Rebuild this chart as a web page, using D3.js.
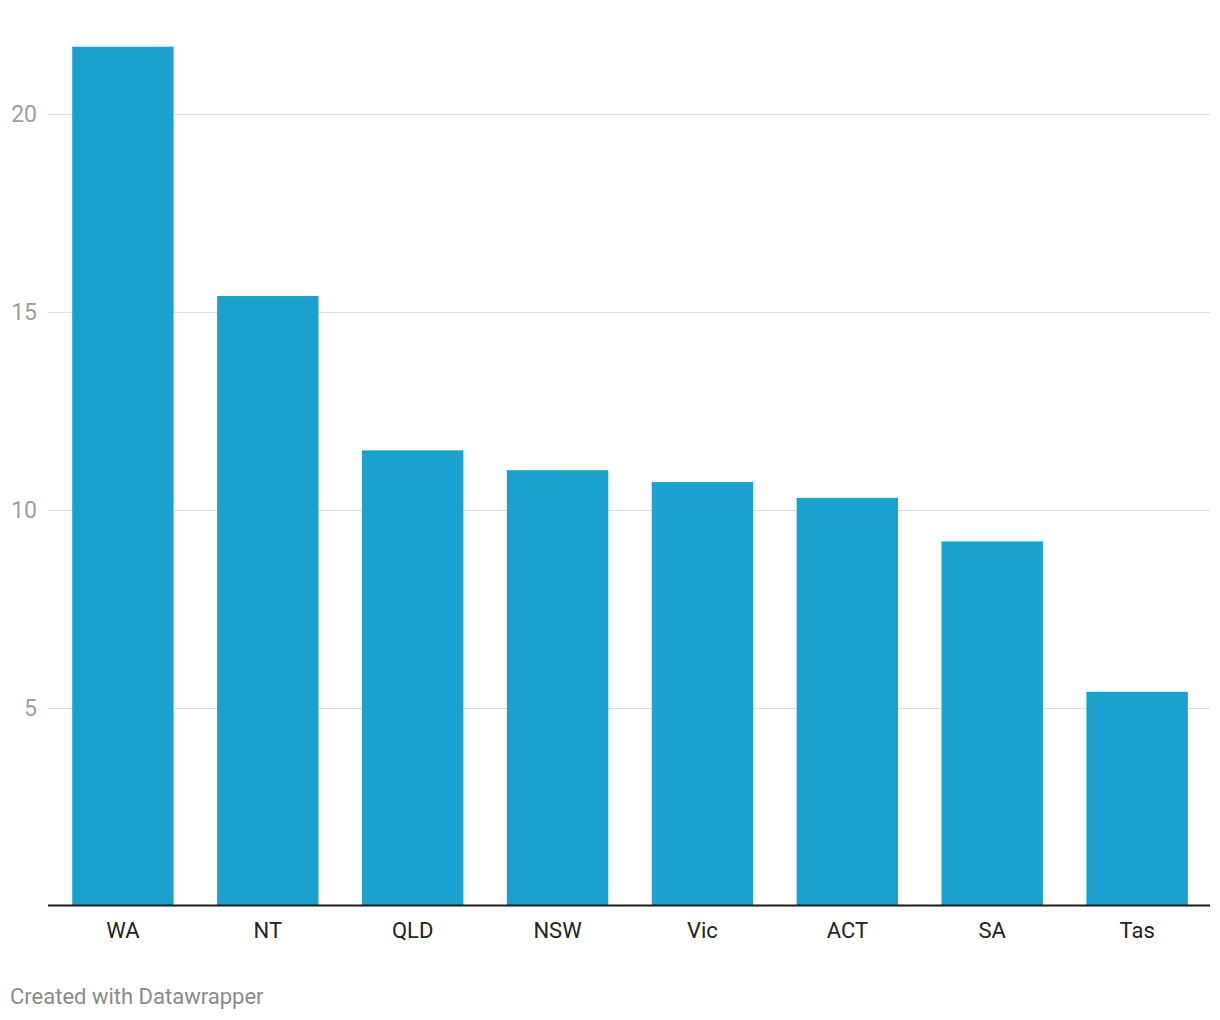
<!DOCTYPE html>
<html>
<head>
<meta charset="utf-8">
<script src="https://cdn.jsdelivr.net/npm/d3@7"></script>
<style>
  html, body { margin: 0; padding: 0; background: #fff; }
  svg { display: block; font-family: Roboto, "Noto Sans", sans-serif; }
</style>
</head>
<body>
<svg id="chart" width="1220" height="1020"></svg>
<script>
const categories = ["WA", "NT", "QLD", "NSW", "Vic", "ACT", "SA", "Tas"];
const values = [21.7, 15.4, 11.5, 11.0, 10.7, 10.3, 9.2, 5.4];
const yTicks = [5, 10, 15, 20];
const footerText = "Created with Datawrapper";

(function () {
const svg = d3.select("#chart");
const plotLeft = 48, plotRight = 1210, baseline = 905.5;

const x = d3.scaleBand().domain(categories).range([plotLeft + 1, plotRight + 1]).paddingInner(0.3).paddingOuter(0.16);
const y = d3.scaleLinear().domain([0, 20]).range([baseline, 114]);

// gridlines
svg.append("g").selectAll("line").data(yTicks).join("line")
  .attr("x1", plotLeft).attr("x2", plotRight)
  .attr("y1", d => Math.round(y(d)) + 0.5).attr("y2", d => Math.round(y(d)) + 0.5)
  .attr("stroke", "#dedede").attr("stroke-width", 1);

// y tick labels
svg.append("g").selectAll("text").data(yTicks).join("text")
  .attr("x", 37).attr("y", d => y(d))
  .attr("dy", "0.35em")
  .attr("text-anchor", "end")
  .attr("font-size", 23)
  .attr("fill", "#9e9e9e")
  .text(d => d);

// bars
svg.append("g").selectAll("rect").data(categories).join("rect")
  .attr("x", d => x(d))
  .attr("width", x.bandwidth())
  .attr("y", (d, i) => y(values[i]))
  .attr("height", (d, i) => baseline - y(values[i]))
  .attr("fill", "#1aa1cd");

// baseline
svg.append("line")
  .attr("x1", plotLeft).attr("x2", plotRight)
  .attr("y1", baseline).attr("y2", baseline)
  .attr("stroke", "#1a1a1a").attr("stroke-width", 2);

// x labels
const xAxis = d3.axisBottom(x).tickSize(0).tickPadding(0);
const gx = svg.append("g").attr("transform", `translate(0,${baseline})`).call(xAxis);
gx.select(".domain").remove();
gx.selectAll("text")
  .attr("y", 32).attr("dy", 0)
  .attr("font-size", 22)
  .attr("font-family", "Roboto, sans-serif")
  .attr("fill", "#222");

// footer
svg.append("text")
  .attr("x", 10).attr("y", 1004)
  .attr("font-size", 22)
  .attr("fill", "#8a8a8a")
  .text(footerText);
})();
</script>
</body>
</html>
